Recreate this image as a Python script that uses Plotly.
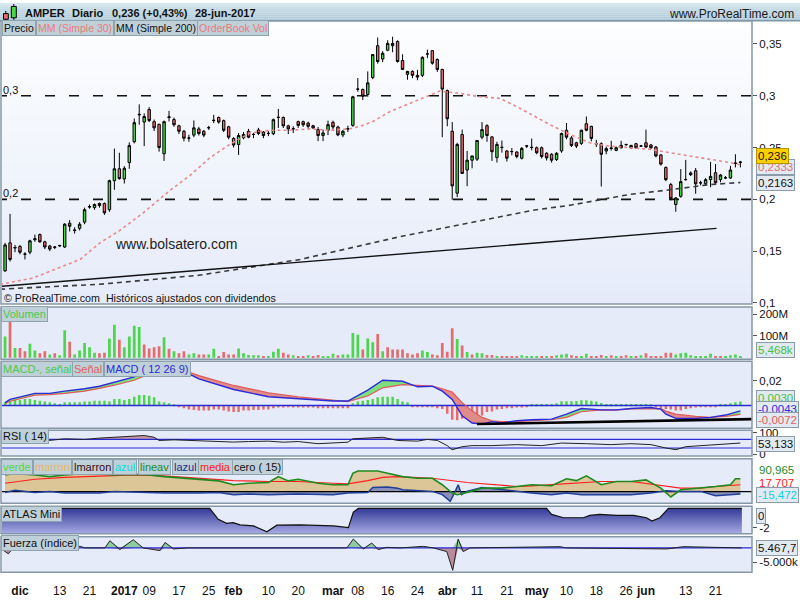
import plotly.graph_objects as go
import pandas as pd

F = "Liberation Sans, Arial, sans-serif"
W, H = 800, 600

# ---------------- trading days ----------------
holidays = ["2016-12-26", "2017-04-14", "2017-04-17", "2017-05-01"]
dates = [d for d in pd.bdate_range("2016-11-28", "2017-06-28")
         if d.strftime("%Y-%m-%d") not in holidays]
date_str = [d.strftime("%Y-%m-%d") for d in dates]
idx = list(range(len(dates)))

# ---------------- price (OHLC) ----------------
opens = [
    .131, .158, .153, .1545, .147, .149, .161, .166, .159, .155,
    .1535, .155, .154, .177, .1705, .172, .178, .1925, .192, .196,
    .196, .190, .218, .2295, .2197, .2355, .2556, .2815, .2746, .2867,
    .275, .2724, .244, .279, .277, .271, .2657, .259, .262, .268,
    .2657, .269, .276, .279, .276, .270, .2588, .253, .2594, .2657,
    .2626, .267, .265, .2635, .2633, .279, .279, .271, .268, .275,
    .275, .2736, .271, .2673, .2616, .2667, .2743, .2698, .2622, .268,
    .2714, .3063, .306, .3013, .3175, .3483, .3355, .344, .3505, .3524,
    .334, .3207, .3235, .3197, .3197, .3403, .3435, .335, .3254, .305,
    .2657, .206, .2626, .2283, .2378, .2388, .260, .2711, .2603, .2403,
    .25, .2467, .246, .2457, .2397, .2514, .25, .2498, .2498, .2445,
    .2435, .2385, .2467, .2667, .2593, .2546, .254, .273, .2705, .2537,
    .2537, .2467, .249, .2473, .2498, .2528, .2498, .2537, .2514, .2546,
    .2525, .2505, .2429, .2308, .2143, .195, .2029, .219, .2255, .2276,
    .2158, .215, .219, .2257, .219, .2206, .2206, .2346, .2355]
highs = [
    .158, .186, .156, .156, .149, .161, .166, .167, .160, .156,
    .155, .156, .177, .180, .173, .178, .192, .195, .196, .197,
    .197, .219, .249, .245, .232, .255, .278, .2917, .283, .289,
    .277, .273, .276, .2854, .279, .272, .267, .2624, .2762, .270,
    .267, .271, .2816, .280, .277, .271, .260, .264, .265, .268,
    .264, .269, .266, .266, .278, .2873, .280, .272, .2705, .276,
    .276, .275, .272, .2698, .2673, .276, .276, .271, .267, .271,
    .300, .3171, .307, .3235, .340, .3562, .343, .3536, .357, .3535,
    .340, .324, .3245, .325, .338, .3445, .344, .336, .326, .306,
    .2746, .2546, .2673, .2467, .2420, .2568, .2746, .2725, .261, .2556,
    .2568, .2475, .2495, .2465, .2505, .2525, .2587, .251, .251, .2455,
    .2445, .2455, .2645, .2737, .261, .2556, .2673, .280, .271, .2575,
    .255, .251, .2565, .251, .2565, .2535, .2525, .2545, .2525, .2673,
    .2535, .2515, .2435, .2318, .2159, .2022, .2292, .2381, .227, .2302,
    .218, .2205, .2362, .234, .2245, .2225, .2324, .2435, .2371]
lows = [
    .130, .140, .149, .147, .142, .147, .159, .158, .152, .150,
    .152, .154, .153, .169, .167, .170, .176, .191, .190, .192,
    .185, .188, .2092, .219, .2153, .2295, .254, .272, .2514, .2746,
    .266, .246, .2371, .2752, .270, .263, .256, .2556, .260, .2616,
    .260, .267, .2736, .273, .265, .258, .250, .2429, .258, .259,
    .259, .262, .259, .261, .262, .2689, .2689, .263, .264, .269,
    .270, .2683, .268, .2562, .2562, .262, .266, .261, .260, .265,
    .270, .3038, .2959, .299, .316, .331, .3324, .343, .342, .332,
    .325, .3155, .317, .315, .318, .3362, .330, .323, .260, .2705,
    .1997, .2022, .2245, .2127, .230, .2370, .258, .2556, .2371, .2355,
    .2451, .2365, .2425, .2395, .2385, .2495, .2473, .2435, .2395, .2375,
    .2355, .237, .245, .258, .2505, .2495, .2525, .2657, .256, .2505,
    .2124, .2435, .247, .2465, .249, .2515, .2488, .2490, .2505, .2495,
    .2485, .2405, .2325, .2175, .199, .188, .2015, .218, .2225, .2054,
    .2135, .2135, .2117, .215, .2165, .2195, .2198, .2308, .2308]
closes = [
    .156, .142, .1535, .149, .1472, .160, .162, .159, .154, .152,
    .154, .1555, .176, .174, .170, .176, .190, .193, .195, .194,
    .187, .218, .2295, .220, .230, .252, .274, .282, .280, .276,
    .269, .250, .275, .2795, .272, .2657, .259, .2592, .269, .2635,
    .262, .2692, .2763, .2746, .2667, .260, .2524, .2616, .2626, .260,
    .2627, .2636, .2616, .2637, .2769, .2792, .271, .268, .2682, .2714,
    .272, .2705, .269, .2616, .2641, .2721, .2698, .2622, .2657, .2682,
    .299, .3065, .2997, .3124, .3397, .333, .341, .3505, .3483, .333,
    .3254, .3235, .3197, .318, .3371, .3403, .3314, .3254, .3064, .2778,
    .213, .253, .225, .2378, .2419, .2568, .2673, .2616, .246, .253,
    .2502, .2397, .2462, .2413, .2492, .2516, .2502, .245, .2413, .240,
    .2378, .2445, .2635, .26, .252, .2514, .2667, .2667, .2588, .2535,
    .2435, .249, .2495, .2498, .2521, .2530, .2521, .2498, .2515, .2505,
    .2498, .2419, .234, .219, .2006, .2013, .2171, .2192, .2238, .215,
    .2160, .219, .2222, .216, .2235, .2208, .2283, .235, .236]

# moving averages (read at sample bars)
ma30_i = [-1, 5.6, 15.1, 19.1, 23.1, 27.8, 33.2, 37.2, 41.2, 45.3, 49.3, 53.3, 57.3, 61.4,
          65.4, 69.4, 71.4, 74, 77.5, 81.5, 85.5, 87.5, 91.6, 95.6, 99.6, 103.6, 107.6,
          109.7, 113.7, 117.7, 121.8, 125.8, 129.8, 133.8, 137.9, 141.9, 145.9, 148]
ma30_v = [.118, .124, .142, .158, .170, .187, .2086, .223, .240, .2533, .264, .2667, .2667, .268,
          .2667, .268, .2705, .275, .2848, .2927, .3006, .3045, .3022, .299, .2975, .288, .2775,
          .272, .2626, .2546, .2514, .2498, .2483, .245, .2419, .2387, .2355, .2333]
ma200_i = [-1, 19, 39, 59.4, 79.5, 92.9, 106.3, 113.7, 125.8, 133.8, 141.9, 148]
ma200_v = [.1133, .118, .1267, .142, .164, .1768, .1895, .1943, .2048, .2092, .2143, .2163]
trend_i = [-1, 143.2]
trend_v = [.1159, .172]

# ---------------- volume (millions) ----------------
vol_m = [98, 171, 45, 45, 30, 64, 33, 20, 30, 15, 20, 11, 126, 73, 15, 33, 68, 48, 23, 20,
         23, 88, 152, 83, 48, 98, 147, 141, 61, 42, 48, 53, 94, 41, 30, 20, 30, 15, 20, 15,
         15, 15, 41, 8, 26, 15, 15, 42, 20, 12, 11, 11, 8, 8, 27, 41, 23, 15, 11, 8,
         8, 11, 8, 12, 8, 8, 18, 11, 15, 15, 114, 106, 38, 88, 71, 109, 30, 48, 38, 38,
         38, 20, 15, 20, 33, 26, 15, 11, 68, 27, 136, 86, 56, 26, 15, 23, 20, 12, 12, 8,
         5, 5, 5, 5, 11, 5, 8, 5, 5, 5, 8, 11, 15, 18, 11, 5, 5, 18, 8, 8,
         12, 5, 11, 8, 8, 11, 8, 8, 11, 20, 8, 5, 5, 23, 23, 15, 20, 23, 11, 8,
         8, 8, 18, 8, 5, 5, 11, 15, 5]
vol_dir = ("grgrrggrrg" "rggrgggggr" "rggrggggrr" "rrgrgrrggr" "rggrrrrggg"
           "ggrgggrrgr" "rgrrgggrgg" "ggrggrgrrr" "rrrrggrrrr" "rgrgrggrrg"
           "rrrrggggrg" "rgggrrggrr" "rgrgrrgrgr" "rrrrrggggg" "gggrrgggg")

# ---------------- MACD ----------------
macd_hist = [
    .0027, .0035, .0045, .0045, .0053, .0053, .0045, .004, .0032, .0027,
    .0019, .0013, .0027, .0027, .0027, .0027, .0032, .0032, .004, .004,
    .004, .0032, .0053, .0053, .0045, .0053, .0072, .0085, .0085, .008,
    .0067, .0032, .0027, .0019, .0008, -.0005, -.0021, -.0032, -.0035, -.004,
    -.004, -.004, -.0032, -.0032, -.004, -.0048, -.0053, -.0053, -.004, -.004,
    -.0035, -.0035, -.0032, -.0032, -.0021, -.0016, -.0016, -.0011, -.0016, -.0016,
    -.0016, -.0016, -.0016, -.0021, -.0021, -.0021, -.0021, -.0021, -.0021, -.0021,
    .0019, .0032, .004, .0045, .0053, .0067, .0072, .0072, .0072, .0053,
    .0032, .0027, -.0005, -.0008, -.0008, -.0013, -.0013, -.0021, -.0027, -.0067,
    -.0115, -.012, -.0107, -.008, -.008, -.0093, -.008, -.0053, -.0048, -.0032,
    -.0027, -.0021, -.0021, -.0016, -.0016, -.0013, .0013, .0013, .0013, .0013,
    .0013, .0019, .0035, .0035, .0035, .0037, .0043, .0043, .004, .0032,
    .0021, .0013, .0013, .0013, .0013, .0013, .0013, .0013, .0013, .0013,
    .0005, -.0005, -.0021, -.0027, -.0032, -.004, -.004, -.0027, -.0021, -.0016,
    -.0013, -.0008, -.0008, -.0005, .0013, .0013, .0019, .0027, .0032]
macd_i = [0, 1, 6, 9, 12, 16, 19, 22, 26, 28, 31, 34, 37, 39, 46, 53, 59, 66, 69, 73, 76, 80,
          83, 86, 88, 90, 92, 94, 96, 98, 100, 103, 106, 110, 113, 116, 120, 123, 126, 130,
          132, 133, 135, 139, 142, 145, 148]
macd_v = [.0024, .005, .0099, .0099, .0117, .0136, .0157, .019, .0232, .0277, .031, .0305,
          .0256, .0216, .013, .0072, .0056, .0037, .0037, .0125, .0205, .0197, .0152, .0157,
          .0117, .005, -.0083, -.0141, -.015, -.013, -.0141, -.0123, -.0115, -.011, -.007,
          -.0024, -.0035, -.0035, -.0024, -.0016, -.0029, -.007, -.0104, -.0104, -.0096,
          -.0077, -.0043]
signal_v = [.0016, .0035, .0085, .0088, .0098, .0117, .014, .0165, .0205, .024, .028, .0295,
            .0272, .0243, .0163, .0104, .007, .0045, .0032, .0077, .0144, .017, .0163, .0157,
            .0136, .011, .0024, -.0043, -.0096, -.0123, -.013, -.013, -.0123, -.0115, -.0096,
            -.005, -.0035, -.0037, -.0027, -.0022, -.0025, -.0045, -.007, -.0088, -.0096,
            -.0088, -.0072]
macd_trend_i = [95, 150.3]
macd_trend_v = [-.015, -.011]

# ---------------- RSI ----------------
rsi_i = [0, 4, 9, 12, 16, 19, 22, 26, 28, 30, 31, 34, 39, 43, 46, 49, 53, 56, 59, 63, 66, 69,
         70, 73, 76, 79, 83, 85, 87, 89, 90, 92, 94, 98, 103, 108, 112, 117, 122, 126, 130,
         133, 135, 137, 140, 143, 147, 148]
rsi_v = [68, 66, 65.4, 72.8, 70, 76, 80.6, 88, 88, 80, 65, 68, 65, 62.6, 57.6, 60, 62, 57, 60,
         50, 54, 57, 72.8, 76, 80, 65, 62, 70, 65, 41, 22, 36, 41, 41, 45.6, 41, 53, 50, 45.6,
         50, 45.6, 30, 22, 36, 41, 46, 53, 53.1]

# ---------------- oscillator (verde / media / lazul) ----------------
green_i = [0, 2, 6, 9, 12, 16, 19, 22, 26, 29, 32, 36, 39, 43, 46, 49, 53, 55, 57, 59, 63, 66,
           69, 70, 71, 75, 77, 80, 83, 86, 88, 90, 91, 93, 96, 100, 103, 106, 110, 113, 115,
           117, 120, 123, 126, 129, 132, 134, 136, 140, 143, 146, 147, 148]
green_v = [113, 124, 113, 102, 113, 124, 120, 113, 117, 113, 102, 91, 80, 73, 47, 57, 62, 102,
           73, 84, 57, 47, 47, 124, 140, 140, 124, 102, 91, 91, 47, -9, -20, -5, 24, 24, 35, 47,
           40, 87, 75, 107, 47, 69, 69, 80, 24, -36, 13, 24, 35, 47, 87, 87]
red_i = [0, 6, 12, 19, 26, 32, 39, 46, 53, 59, 66, 69, 73, 76, 79, 86, 93, 100, 103, 106, 113,
         120, 126, 133, 136, 140, 143, 148]
red_v = [57, 84, 97, 107, 113, 107, 91, 75, 69, 69, 57, 53, 75, 97, 102, 91, 62, 40, 35, 40, 53,
         69, 69, 35, 24, 24, 35, 47]
blue_i = [0, 2, 6, 9, 12, 19, 22, 26, 29, 32, 39, 43, 46, 49, 53, 59, 66, 69, 73, 74, 77, 79, 80,
          83, 86, 88, 89.6, 90.6, 91.2, 91.9, 92.9, 96, 100, 103, 106, 110, 113, 116, 120, 123,
          126, 130, 133, 136, 140, 143, 146, 148]
blue_v = [-5, 9, -5, 2, -9, -9, 2, -3, -9, -9, -9, -5, -20, -16, -20, -16, -20, -9, -5, 29, 31,
          24, 13, 7, 2, -20, -65, 2, 47, -20, 2, 29, 13, 2, -9, -20, -9, -20, -20, -16, -20, -9,
          7, 2, 2, -27, -20, -16]

# ---------------- ATLAS Mini ----------------
atlas_i = [-1, 41.2, 42.9, 44.6, 45.9, 47.3, 50, 52.7, 54.7, 59.4, 66.1, 69.1, 70.1, 71.1, 109,
           110, 112.4, 116.4, 117.7, 119.7, 123.1, 126.5, 129.1, 130.2, 131.8, 133.2, 133.5, 148.3]
atlas_v = [0, 0, -1.13, -1.55, -1.48, -1.72, -1.82, -2.44, -1.75, -1.72, -1.82, -2.0, -0.38, 0,
           0, -0.62, -0.97, -0.97, -0.72, -0.62, -0.72, -0.72, -0.97, -1.31, -0.97, -0.1, 0, 0]

# ---------------- Fuerza (indice) ----------------
fuerza_last = 5467.7
fz_i = [-1, 0.65, 1.65, 15.1, 16.1, 20.1, 21.1, 23.1, 25.8, 27.8, 31.2, 32.2, 33.9, 36.6, 68.8,
        70.1, 72.1, 73.8, 75.1, 76.8, 79.5, 84.2, 86.2, 87.5, 88.9, 90.1, 91.2, 92.2, 93.6,
        111.7, 113, 133.2, 136.5, 148.3]
fz_v = [5468, 1196, 5468, 6607, 5468, 5468, 10665, 4257, 11377, 5468, 3545, 9455, 4756, 5468,
        5468, 11876, 4756, 9028, 4257, 5895, 5468, 6607, 5468, 4257, 2833, -10695, 11876, 2833,
        5468, 6393, 5468, 4756, 6393, 5468]

# ---------------- axis labels ----------------
tick_dates = ["2016-12-01", "2016-12-13", "2016-12-21", "2017-01-02", "2017-01-09", "2017-01-17",
              "2017-01-25", "2017-02-01", "2017-02-10", "2017-02-20", "2017-03-01", "2017-03-08",
              "2017-03-16", "2017-03-24", "2017-04-03", "2017-04-11", "2017-04-21", "2017-05-02",
              "2017-05-10", "2017-05-18", "2017-05-26", "2017-06-01", "2017-06-13", "2017-06-21"]
tick_text = ["<b>dic</b>", "13", "21", "<b>2017</b>", "09", "17", "25", "<b>feb</b>", "10", "20",
             "<b>mar</b>", "08", "16", "24", "<b>abr</b>", "11", "21", "<b>may</b>", "10", "18",
             "26", "<b>jun</b>", "13", "21"]
tick_vals = [date_str.index(t) for t in tick_dates]
price_ticks = [0.1, 0.15, 0.2, 0.25, 0.3, 0.35]
price_tick_text = ["0,1", "0,15", "0,2", "0,25", "0,3", "0,35"]

# =============== layout helpers ===============
def yp(px):
    return 1 - px / H

def xp(px):
    return px / W

X0, X1 = 2, 752
XR = [-0.62, 150.34]
panels = {  # name: (top px, bottom px, y-range)
    1: (18, 305, [0.09905, 0.37238]),
    2: (308, 361, [-6.8, 234]),
    3: (363, 431, [-0.0184, 0.036]),
    4: (433, 459, [-6.8, 112.8]),
    5: (462, 507, [-78, 222]),
    6: (510, 538, [-2.65, 0.237]),
    7: (541, 577, [-12119, 13513]),
}

GREEN = "#4cd64c"
RED = "#e46c6c"
fig = go.Figure()

def ax(k):
    return ("x" if k == 1 else f"x{k}"), ("y" if k == 1 else f"y{k}")

def line(k, xs, ys, color, width=1, dash=None, **kw):
    xa, ya = ax(k)
    fig.add_trace(go.Scatter(x=xs, y=ys, mode="lines", xaxis=xa, yaxis=ya,
                             line=dict(color=color, width=width, dash=dash),
                             hoverinfo="skip", showlegend=False, **kw))

# ---- main panel ----
fig.add_trace(go.Candlestick(
    x=idx, open=opens, high=highs, low=lows, close=closes, xaxis="x", yaxis="y",
    increasing=dict(fillcolor=GREEN, line=dict(color="#000", width=1)),
    decreasing=dict(fillcolor=RED, line=dict(color="#000", width=1)),
    whiskerwidth=0, showlegend=False, hoverinfo="skip"))
line(1, ma200_i, ma200_v, "#3a3a3a", width=1.6, dash="5px,4px")
line(1, ma30_i, ma30_v, "#e88a8a", width=1.6, dash="3px,3px")
line(1, trend_i, trend_v, "#111", width=1.4)

# ---- volume ----
fig.add_trace(go.Bar(x=idx, y=vol_m, xaxis="x2", yaxis="y2", width=0.55,
                     marker=dict(color=[GREEN if c == "g" else RED for c in vol_dir], line_width=0),
                     showlegend=False, hoverinfo="skip"))

# ---- MACD ----
fig.add_trace(go.Bar(x=idx, y=macd_hist, xaxis="x3", yaxis="y3", width=0.5,
                     marker=dict(color=[GREEN if v >= 0 else RED for v in macd_hist], line_width=0),
                     showlegend=False, hoverinfo="skip"))
gx, gy, rx, ry = [], [], [], []
for k in range(len(macd_i) - 1):
    px_ = [macd_i[k], macd_i[k + 1], macd_i[k + 1], macd_i[k], macd_i[k], None]
    py_ = [macd_v[k], macd_v[k + 1], signal_v[k + 1], signal_v[k], macd_v[k], None]
    if macd_v[k] + macd_v[k + 1] >= signal_v[k] + signal_v[k + 1]:
        gx += px_; gy += py_
    else:
        rx += px_; ry += py_
line(3, gx, gy, "rgba(0,0,0,0)", width=0, fill="toself", fillcolor="#7fdf7f")
line(3, rx, ry, "rgba(0,0,0,0)", width=0, fill="toself", fillcolor="#e08a8a")
line(3, [XR[0] - 1, XR[1] + 1], [0, 0], "#2a2ad6", width=1.4)
line(3, macd_i, signal_v, "#e05a5a", width=1.2)
line(3, macd_i, macd_v, "#2b2bd8", width=1.4)
line(3, macd_trend_i, macd_trend_v, "#000", width=2.6)

# ---- RSI ----
line(4, rsi_i, [70] * len(rsi_i), "rgba(0,0,0,0)", width=0)
line(4, rsi_i, [max(v, 70) for v in rsi_v], "rgba(0,0,0,0)", width=0, fill="tonexty",
     fillcolor="#c49aa4")
line(4, rsi_i, [30] * len(rsi_i), "rgba(0,0,0,0)", width=0)
line(4, rsi_i, [min(v, 30) for v in rsi_v], "rgba(0,0,0,0)", width=0, fill="tonexty",
     fillcolor="#8fc49a")
for lvl in (70, 30):
    line(4, [XR[0] - 1, XR[1] + 1], [lvl, lvl], "#2a2ad6", width=1.2)
line(4, rsi_i, rsi_v, "#222", width=1)

# ---- oscillator ----
line(5, green_i, [0] * len(green_i), "rgba(0,0,0,0)", width=0)
line(5, green_i, green_v, "rgba(0,0,0,0)", width=0, fill="tonexty", fillcolor="#dcc596")
line(5, blue_i, [0] * len(blue_i), "rgba(0,0,0,0)", width=0)
line(5, blue_i, blue_v, "rgba(0,0,0,0)", width=0, fill="tonexty", fillcolor="#8a90b8")
line(5, [XR[0] - 1, XR[1] + 1], [0, 0], "#000", width=1.2)
line(5, blue_i, blue_v, "#1f3f9a", width=1.5)
line(5, red_i, red_v, "#ff2020", width=1.2)
line(5, green_i, green_v, "#1f8a1f", width=1.6)

# ---- ATLAS Mini ----
bot6 = panels[6][2][0]
line(6, atlas_i, [bot6] * len(atlas_i), "rgba(0,0,0,0)", width=0)
line(6, atlas_i, atlas_v, "#111", width=1.2, fill="tonexty",
     fillgradient=dict(type="vertical", start=bot6, stop=0,
                       colorscale=[[0, "#a9ade6"], [1, "#353b97"]]))

# ---- Fuerza ----
line(7, fz_i, [fuerza_last] * len(fz_i), "rgba(0,0,0,0)", width=0)
line(7, fz_i, [max(v, fuerza_last) for v in fz_v], "rgba(0,0,0,0)", width=0, fill="tonexty",
     fillcolor="#8fc9a0")
line(7, fz_i, [fuerza_last] * len(fz_i), "rgba(0,0,0,0)", width=0)
line(7, fz_i, [min(v, fuerza_last) for v in fz_v], "rgba(0,0,0,0)", width=0, fill="tonexty",
     fillcolor="#b98c9c")
line(7, [XR[0] - 1, XR[1] + 1], [fuerza_last, fuerza_last], "#2a2ad6", width=1.2)
line(7, fz_i, fz_v, "#222", width=1)

# =============== axes ===============
layout = dict(width=W, height=H, margin=dict(l=0, r=0, t=0, b=0),
              paper_bgcolor="#ffffff", plot_bgcolor="#e5ebf9", showlegend=False,
              font=dict(family=F, size=11, color="#111"))
ytick_cfg = {
    1: (price_ticks, price_tick_text),
    2: ([100, 200], ["100M", "200M"]),
    3: ([0.02], ["0,02"]),
    4: ([0, 100], ["0", "100"]),
    5: ([], []),
    6: ([-2], ["-2"]),
    7: ([-5000], ["-5.000k"]),
}
for k, (t, b, rng) in panels.items():
    xa, ya = ax(k)
    xkey = "xaxis" if k == 1 else f"xaxis{k}"
    ykey = "yaxis" if k == 1 else f"yaxis{k}"
    layout[xkey] = dict(domain=[xp(X0), xp(X1)], range=XR, anchor=ya, showgrid=False,
                        zeroline=False, showline=False, fixedrange=True,
                        showticklabels=(k == 7), ticks="", tickangle=0)
    if k != 1:
        layout[xkey]["matches"] = "x"
    tv, tt = ytick_cfg[k]
    layout[ykey] = dict(domain=[yp(b), yp(t)], range=rng, anchor=xa, side="right",
                        showgrid=False, zeroline=False, showline=False, fixedrange=True,
                        tickvals=tv, ticktext=tt, ticks="outside", ticklen=4,
                        tickcolor="#555", tickfont=dict(size=11.5, color="#111"))
layout["xaxis"]["rangeslider"] = dict(visible=False)
layout["xaxis7"].update(tickvals=tick_vals, ticktext=tick_text, ticks="outside", ticklen=7,
                        tickcolor="rgba(0,0,0,0)", tickfont=dict(size=12, color="#111"))

# =============== shapes ===============
shapes = []
# main-panel vertical gradient background (bands under the traces)
ylo, yhi = panels[1][2]
nb = 30
c_lo, c_hi = (229, 235, 249), (253, 254, 255)
for k in range(nb):
    f = (k + 0.5) / nb
    col = "rgb(%d,%d,%d)" % tuple(round(a + (b - a) * f) for a, b in zip(c_lo, c_hi))
    shapes.append(dict(type="rect", xref="x", yref="y", x0=XR[0] - 1, x1=XR[1] + 1,
                       y0=ylo + (yhi - ylo) * k / nb, y1=ylo + (yhi - ylo) * (k + 1) / nb + 0.0005,
                       fillcolor=col, line_width=0, layer="below"))
for lvl in (0.3, 0.2):
    shapes.append(dict(type="line", xref="x", yref="y", x0=XR[0] - 1, x1=XR[1] + 1, y0=lvl, y1=lvl,
                       line=dict(color="#111", width=1.6, dash="10px,14px"), layer="below"))
hdr = ["#d6e7ef", "#d1e3eb", "#cbdfe8", "#c6dbe5", "#c1d8e2", "#bcd4df", "#b8d1dd", "#b4cedb",
       "#b1ccd9"]
for k, c in enumerate(hdr):
    shapes.append(dict(type="rect", xref="paper", yref="paper", x0=0, x1=1, y0=yp(2 * k + 2),
                       y1=yp(2 * k), fillcolor=c, line_width=0, layer="below"))
shapes.append(dict(type="line", xref="paper", yref="paper", x0=0, x1=1, y0=yp(18), y1=yp(18),
                   line=dict(color="#7f98a8", width=1.5)))
for k, (t, b, rng) in panels.items():
    shapes.append(dict(type="rect", xref="paper", yref="paper", x0=xp(X0 - 1), x1=xp(X1),
                       y0=yp(b), y1=yp(t), line=dict(color="#8598a8", width=1.5),
                       fillcolor="rgba(0,0,0,0)", layer="above"))
# small candle icon in header
shapes += [
    dict(type="line", xref="paper", yref="paper", x0=xp(5.8), x1=xp(5.8), y0=yp(18), y1=yp(8),
         line=dict(color="#000", width=1)),
    dict(type="rect", xref="paper", yref="paper", x0=xp(3.5), x1=xp(8.3), y0=yp(16.5), y1=yp(10.7),
         fillcolor="#e46c6c", line=dict(color="#000", width=1)),
    dict(type="line", xref="paper", yref="paper", x0=xp(13.8), x1=xp(13.8), y0=yp(17), y1=yp(1),
         line=dict(color="#000", width=1)),
    dict(type="rect", xref="paper", yref="paper", x0=xp(11.3), x1=xp(16.3), y0=yp(15), y1=yp(3.5),
         fillcolor="#4cd64c", line=dict(color="#000", width=1)),
]
layout["shapes"] = shapes

# =============== annotations ===============
ann = []

def text(xpx, ypx, s, size=11, color="#111", anchor="left", bold=False):
    ann.append(dict(xref="paper", yref="paper", x=xp(xpx), y=yp(ypx), xanchor=anchor,
                    yanchor="middle", text=(f"<b>{s}</b>" if bold else s), showarrow=False,
                    font=dict(family=F, size=size, color=color)))

def tab(x0, ypx, s, color, size=10.5):
    ann.append(dict(xref="paper", yref="paper", x=xp(x0), y=yp(ypx), xanchor="left",
                    yanchor="middle", text=s, showarrow=False, height=12,
                    align="left", bgcolor="#bfd0d9", bordercolor="#8ea3b0", borderwidth=1,
                    borderpad=1, font=dict(family=F, size=size, color=color)))

def box(ypx, s, color, bg="#e3e9f0", x0=756, border="#8a9cab"):
    ann.append(dict(xref="paper", yref="paper", x=xp(x0), y=yp(ypx), xanchor="left",
                    yanchor="middle", text=s, showarrow=False, height=12,
                    align="left", bgcolor=bg, bordercolor=border, borderwidth=1, borderpad=1,
                    font=dict(family=F, size=11.5, color=color)))

# header
text(23, 10, "AMPER", size=11, bold=True)
text(70, 10, "Diario", size=11, bold=True)
text(110, 10, "0,236 (+0,43%)", size=11, bold=True)
text(193, 10, "28-jun-2017", size=11, bold=True)
text(796, 11, "www.ProRealTime.com", size=12, anchor="right", color="#1a1a1a")

# main legend tabs
tab(2, 25.5, "Precio", "#111")
tab(36, 25.5, "MM (Simple 30)", "#e87a7a")
tab(114, 25.5, "MM (Simple 200)", "#111")
tab(197, 25.5, "OrderBook Vol", "#e87a7a")
text(1, 88, "0,3")
text(1, 193, "0,2")
text(113, 244, "www.bolsatero.com", size=14, color="#222")
text(2, 298.5, "© ProRealTime.com  Históricos ajustados con dividendos", size=10.7)

# other panel tabs
tab(1, 315.5, "Volumen", "#4cc84c", 11)
tab(1, 370.5, "MACD-, señal", "#4cc84c", 11)
tab(72, 370.5, "Señal", "#e06060", 11)
tab(104, 370.5, "MACD ( 12 26 9)", "#2b2bd8", 11)
tab(1, 439, "RSI ( 14)", "#111", 11)
osc_tabs = [(1, "verde", "#44dd44"), (33, "marron", "#f2b06a"), (72, "lmarron", "#3a0a0a"),
            (113, "azul", "#00e0e0"), (138, "lineav", "#1f8a1f"), (172, "lazul", "#1a2a8a"),
            (198, "media", "#ff2020"), (232, "cero ( 15)", "#111")]
for a, s, c in osc_tabs:
    tab(a, 470.5, s, c, 11)
tab(1, 518, "ATLAS Mini", "#111", 11)
tab(1, 547.5, "Fuerza (índice)", "#111", 11)

# right value boxes
box(166, "0,2333", "#e07070")
box(155, "0,236", "#111", bg="#ffd000", border="#b89400")
box(182, "0,2163", "#111")
box(352, "5,468k", "#44c044")
box(400, "0,0030", "#44c044")
box(411, "-0,0043", "#2b2bd8")
box(422.5, "-0,0072", "#e06060")
box(447, "53,133", "#111")
text(757, 473, "90,965", size=11.5, color="#1f8a1f")
text(757, 486, "17,707", size=11.5, color="#ff2020")
box(499, "-15,472", "#00d8e8")
box(520, "0", "#111")
box(552, "5.467,7", "#111")
layout["annotations"] = ann

fig.update_layout(**layout)
fig.write_html("out.html", config={"displayModeBar": False},
               post_script="document.body.style.margin='0';")
